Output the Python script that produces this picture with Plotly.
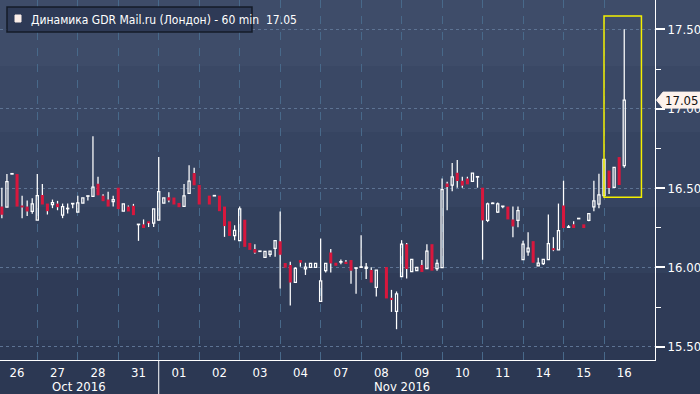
import plotly.graph_objects as go

# ---------------- data ----------------
day_labels = ["26", "27", "28", "31", "01", "02", "03", "04",
              "07", "08", "09", "10", "11", "14", "15", "16"]
day_month = [0, 0, 0, 0, 1, 1, 1, 1, 1, 1, 1, 1, 1, 1, 1, 1]
month_labels = ["Oct 2016", "Nov 2016"]
bars_per_day = 8          # hourly bars per trading day
first_slot = 1            # slot number of the first listed bar (26 Oct)

opens = [16.383, 16.379, 16.588, 16.588, 16.390, 16.383, 16.352, 16.298,
         16.456, 16.402, 16.396, 16.402, 16.329, 16.369, 16.400, 16.348,
         16.404, 16.448, 16.448, 16.527, 16.452, 16.427, 16.415, 16.502,
         16.354, 16.383, 16.388, 16.269, 16.271, 16.290, 16.279, 16.298,
         16.404, 16.442, 16.440, 16.406, 16.385, 16.467, 16.594, 16.519,
         None, 16.452, 16.450, 16.452, 16.383, 16.290, 16.200, 16.169,
         16.300, 16.154, 16.115, 16.100, 16.063, 16.081, 16.119, 16.165,
         16.027, 16.015, 15.906, 16.046, 15.990, 16.000, 16.000, 15.785,
         15.979, 16.094, 16.029, 16.033, 16.035, 16.046, 15.994, 16.000,
         15.994, 15.983, 15.873, None, 16.002, 15.808, 15.723, 15.942,
         16.146, 15.973, 15.979, 16.015, 15.992, 16.146, 15.992, 15.998,
         16.529, 16.519, 16.596, 16.546, 16.560, 16.542, 16.569, 16.502,
         16.296, 16.402, 16.348, 16.383, 16.383, 16.302, 16.296, 16.048,
         16.098, 16.165, 16.010, 16.023, 16.048, 16.121, 16.110, 16.390,
         16.252, 16.271, 16.306, 16.271, 16.296, 16.381, 16.398, 16.452,
         16.610, 16.504, 16.695, 16.641]
highs = [16.502, 16.588, 16.592, 16.588, 16.452, 16.421, 16.435, 16.588,
         16.525, 16.402, 16.427, 16.419, 16.402, 16.402, 16.400, 16.452,
         16.438, 16.448, 16.827, 16.571, 16.460, 16.477, 16.452, 16.502,
         16.400, 16.390, 16.400, 16.269, 16.302, 16.290, 16.369, 16.696,
         16.438, 16.473, 16.440, 16.406, 16.525, 16.644, 16.627, 16.519,
         None, 16.452, 16.450, 16.452, 16.383, 16.290, 16.265, 16.383,
         16.300, 16.154, 16.146, 16.100, 16.100, 16.102, 16.169, 16.352,
         16.027, 16.035, 16.000, 16.046, 16.029, 16.025, 16.025, 16.181,
         16.025, 16.115, 16.029, 16.050, 16.046, 16.046, 15.994, 16.202,
         16.027, 16.000, 15.983, None, 16.002, 15.858, 15.848, 16.171,
         16.154, 16.050, 16.000, 16.046, 16.146, 16.146, 16.050, 16.560,
         16.540, 16.658, 16.677, 16.571, 16.571, 16.594, 16.569, 16.502,
         16.408, 16.408, 16.408, 16.383, 16.383, 16.383, 16.383, 16.167,
         16.221, 16.165, 16.060, 16.050, 16.333, 16.190, 16.402, 16.546,
         16.267, 16.290, 16.306, 16.271, 16.338, 16.546, 16.590, 16.683,
         16.610, 16.630, 16.695, 17.500]
lows = [16.310, 16.379, 16.586, 16.383, 16.310, 16.323, 16.337, 16.298,
        16.396, 16.333, 16.373, 16.360, 16.310, 16.340, 16.373, 16.348,
        16.404, 16.421, 16.448, 16.454, 16.417, 16.383, 16.383, 16.367,
        16.354, 16.352, 16.329, 16.167, 16.248, 16.254, 16.254, 16.298,
        16.404, 16.410, 16.396, 16.379, 16.385, 16.467, 16.517, 16.396,
        None, 16.396, 16.450, 16.354, 16.192, 16.198, 16.171, 16.169,
        16.129, 16.110, 16.085, 16.100, 16.063, 16.067, 16.067, 15.867,
        15.998, 15.760, 15.906, 16.004, 15.952, 16.000, 16.000, 15.785,
        15.967, 15.967, 16.010, 16.019, 16.023, 15.896, 15.833, 16.000,
        15.927, 15.904, 15.817, None, 15.804, 15.719, 15.610, 15.942,
        15.929, 15.973, 15.979, 15.971, 15.992, 15.979, 15.979, 15.998,
        16.360, 16.479, 16.502, 16.502, 16.523, 16.542, 16.502, 16.048,
        16.285, 16.402, 16.342, 16.373, 16.302, 16.190, 16.252, 16.048,
        16.073, 16.029, 16.010, 16.015, 16.048, 16.102, 16.110, 16.248,
        16.252, 16.248, 16.306, 16.248, 16.290, 16.354, 16.373, 16.448,
        16.462, 16.504, 16.519, 16.628]
closes = [16.331, 16.540, 16.590, 16.383, 16.377, 16.352, 16.400, 16.452,
          16.396, 16.354, 16.408, 16.379, 16.383, 16.369, 16.400, 16.406,
          16.438, 16.448, 16.506, 16.454, 16.417, 16.383, 16.427, 16.367,
          16.400, 16.352, 16.329, 16.269, 16.248, 16.279, 16.369, 16.477,
          16.438, 16.421, 16.396, 16.379, 16.450, 16.544, 16.517, 16.396,
          None, 16.396, 16.450, 16.354, 16.260, 16.198, 16.233, 16.369,
          16.129, 16.110, 16.092, 16.100, 16.100, 16.102, 16.169, 16.079,
          15.998, 15.904, 15.994, 16.029, 16.002, 16.025, 16.025, 15.915,
          16.025, 16.025, 16.010, 16.033, 16.023, 15.979, 15.994, 16.000,
          16.002, 15.904, 15.983, None, 15.804, 15.794, 15.833, 16.146,
          15.990, 16.050, 16.000, 15.971, 16.102, 15.979, 16.025, 16.490,
          16.506, 16.571, 16.544, 16.515, 16.523, 16.594, 16.569, 16.296,
          16.400, 16.402, 16.400, 16.383, 16.302, 16.258, 16.358, 16.146,
          16.121, 16.029, 16.027, 16.050, 16.150, 16.108, 16.231, 16.248,
          16.252, 16.248, 16.306, 16.248, 16.338, 16.419, 16.456, 16.680,
          16.500, 16.630, 16.519, 17.054]

price_ticks = [15.50, 16.00, 16.50, 17.00, 17.50]
price_minor = [15.75, 16.25, 16.75, 17.25]
instrument = "Динамика GDR Mail.ru (Лондон) - 60 min"

# ---------------- styling ----------------
FONT = "DejaVu Sans Condensed, Liberation Sans Narrow, Roboto Condensed, DejaVu Sans"
RED = "#d8173d"
WHITE = "#ffffff"
GRID_V = "#48698a"
GRID_H = "#5d7393"

slots = [first_slot + k for k in range(len(opens))]
valid = [k for k in range(len(opens)) if opens[k] is not None]

# wicks (outside the bodies)
wx, wy = [], []
for k in valid:
    s, o, h, l, c = slots[k], opens[k], highs[k], lows[k], closes[k]
    top, bot = max(o, c), min(o, c)
    if h > top:
        wx += [s, s, None]; wy += [top, h, None]
    if l < bot:
        wx += [s, s, None]; wy += [l, bot, None]

MIN_BODY = 0.003
up = [k for k in valid if closes[k] >= opens[k]]
dn = [k for k in valid if closes[k] < opens[k]]

fig = go.Figure()
fig.add_trace(go.Scatter(x=wx, y=wy, mode="lines",
                         line=dict(color=WHITE, width=1.25),
                         hoverinfo="skip", showlegend=False))
fig.add_trace(go.Bar(x=[slots[k] for k in up],
                     base=[opens[k] for k in up],
                     y=[max(closes[k] - opens[k], MIN_BODY) for k in up],
                     width=0.42,
                     marker=dict(color="rgba(0,0,0,0)",
                                 line=dict(color=WHITE, width=1.25)),
                     hoverinfo="skip", showlegend=False))
fig.add_trace(go.Bar(x=[slots[k] for k in dn],
                     base=[closes[k] for k in dn],
                     y=[opens[k] - closes[k] for k in dn],
                     width=0.6,
                     marker=dict(color=RED, line=dict(width=0)),
                     hoverinfo="skip", showlegend=False))

n_days = len(day_labels)
x_min, x_max = 0.63, 130.08
y_min, y_max = 15.416, 17.685

# background gradient bands (figure coordinates)
PLOT_H = 360.0
PLOT_W = 655.0
FIG_W, FIG_H = 700, 394
band_cols = ["#3e4c69", "#3a4865", "#364461", "#32405c", "#2f3b57", "#2c3853"]
band_px = [0, 66, 132, 207, 273, 340, FIG_H]
shapes = []
for j, col in enumerate(band_cols):
    shapes.append(dict(type="rect", xref="paper", yref="paper",
                       x0=0, x1=FIG_W / PLOT_W,
                       y0=(PLOT_H - band_px[j + 1]) / PLOT_H,
                       y1=(PLOT_H - band_px[j]) / PLOT_H,
                       fillcolor=col, line=dict(width=0), layer="below"))

# month separator below the axis
nov_start = day_month.index(1) * bars_per_day
shapes.append(dict(type="line", xref="x", yref="paper",
                   x0=nov_start, x1=nov_start,
                   y0=(PLOT_H - FIG_H) / PLOT_H, y1=0,
                   line=dict(color=WHITE, width=1)))

# highlight rectangle around the last session
last_day = (n_days - 1) * bars_per_day
last_idx = [k for k in valid if slots[k] >= last_day]
shapes.append(dict(type="rect", xref="x", yref="y",
                   x0=last_day, x1=last_day + 7.4,
                   y0=min(lows[k] for k in last_idx) - 0.007,
                   y1=max(highs[k] for k in last_idx) + 0.084,
                   line=dict(color="#f4f000", width=1.5),
                   fillcolor="rgba(0,0,0,0)", layer="above"))

# last price tag on the right axis
last_close = closes[valid[-1]]
half = 8 / PLOT_H * (y_max - y_min)
xt, xb, xr = 656.5 / PLOT_W, 663 / PLOT_W, 700 / PLOT_W
shapes.append(dict(type="path", xref="paper", yref="y",
                   path=(f"M {xt},{last_close} L {xb},{last_close + half} "
                         f"L {xr},{last_close + half} L {xr},{last_close - half} "
                         f"L {xb},{last_close - half} Z"),
                   fillcolor="#fdf2ec", line=dict(color="#fdf2ec", width=1),
                   layer="above"))

# legend box
lx0, lx1, ly0, ly1 = 7, 252, 7, 32
shapes.append(dict(type="rect", xref="paper", yref="paper",
                   x0=lx0 / PLOT_W, x1=lx1 / PLOT_W,
                   y0=(PLOT_H - ly1) / PLOT_H, y1=(PLOT_H - ly0) / PLOT_H,
                   fillcolor="#2e3a56", line=dict(color="#141b28", width=1.5),
                   layer="above"))
shapes.append(dict(type="rect", xref="paper", yref="paper",
                   x0=15 / PLOT_W, x1=21 / PLOT_W,
                   y0=(PLOT_H - 22) / PLOT_H, y1=(PLOT_H - 15) / PLOT_H,
                   fillcolor="#fbeee8", line=dict(color="#fbeee8", width=1),
                   layer="above"))

annotations = [
    dict(xref="paper", yref="paper", x=29 / PLOT_W, y=(PLOT_H - 19.5) / PLOT_H,
         xanchor="left", yanchor="middle", showarrow=False,
         text=f"{instrument} \u00a0{last_close:.2f}",
         font=dict(family=FONT, size=12, color=WHITE)),
    dict(xref="paper", yref="y", x=681.5 / PLOT_W, y=last_close,
         xanchor="center", yanchor="middle", showarrow=False,
         text=f"{last_close:.2f}",
         font=dict(family=FONT, size=13, color="#111111")),
]
# month labels centred on the visible part of each month
for m, name in enumerate(month_labels):
    ds = [d for d in range(n_days) if day_month[d] == m]
    a = max(ds[0] * bars_per_day, x_min)
    b = min((ds[-1] + 1) * bars_per_day, x_max)
    annotations.append(dict(xref="x", yref="paper", x=(a + b) / 2,
                            y=(PLOT_H - 386.5) / PLOT_H,
                            xanchor="center", yanchor="middle", showarrow=False,
                            text=name, font=dict(family=FONT, size=13, color=WHITE)))

fig.update_layout(
    width=FIG_W, height=FIG_H,
    margin=dict(l=0, r=FIG_W - PLOT_W, t=0, b=FIG_H - PLOT_H, autoexpand=False),
    paper_bgcolor="#2b3651", plot_bgcolor="rgba(0,0,0,0)",
    barmode="overlay", showlegend=False,
    shapes=shapes, annotations=annotations,
    font=dict(family=FONT, color=WHITE, size=13),
    xaxis=dict(range=[x_min, x_max], automargin=False,
               tickmode="array",
               tickvals=[d * bars_per_day + bars_per_day / 2 for d in range(n_days)],
               ticktext=day_labels, ticks="", showgrid=False, zeroline=False,
               showline=True, linecolor=WHITE, linewidth=1,
               tickfont=dict(family=FONT, size=13, color=WHITE),
               minor=dict(tickmode="array",
                          tickvals=[d * bars_per_day for d in range(1, n_days)],
                          ticks="inside", ticklen=8, tickwidth=1, tickcolor=GRID_V,
                          showgrid=True, gridcolor=GRID_V, gridwidth=1,
                          griddash="8px,8px")),
    yaxis=dict(range=[y_min, y_max], side="right", automargin=False,
               tickmode="array", tickvals=price_ticks,
               ticktext=[f"{v:.2f}" for v in price_ticks],
               ticks="outside", ticklen=9, tickwidth=2, tickcolor=WHITE,
               showgrid=True, gridcolor=GRID_H, gridwidth=1, griddash="3px,3px",
               zeroline=False, showline=True, linecolor=WHITE, linewidth=1,
               tickfont=dict(family=FONT, size=13, color=WHITE),
               minor=dict(tickmode="array", tickvals=price_minor,
                          ticks="outside", ticklen=5, tickwidth=1,
                          tickcolor=WHITE, showgrid=False)),
)

fig.write_html("out.html",
               config={"displayModeBar": False},
               post_script="document.body.style.margin='0px';"
                           "document.body.style.overflow='hidden';")
